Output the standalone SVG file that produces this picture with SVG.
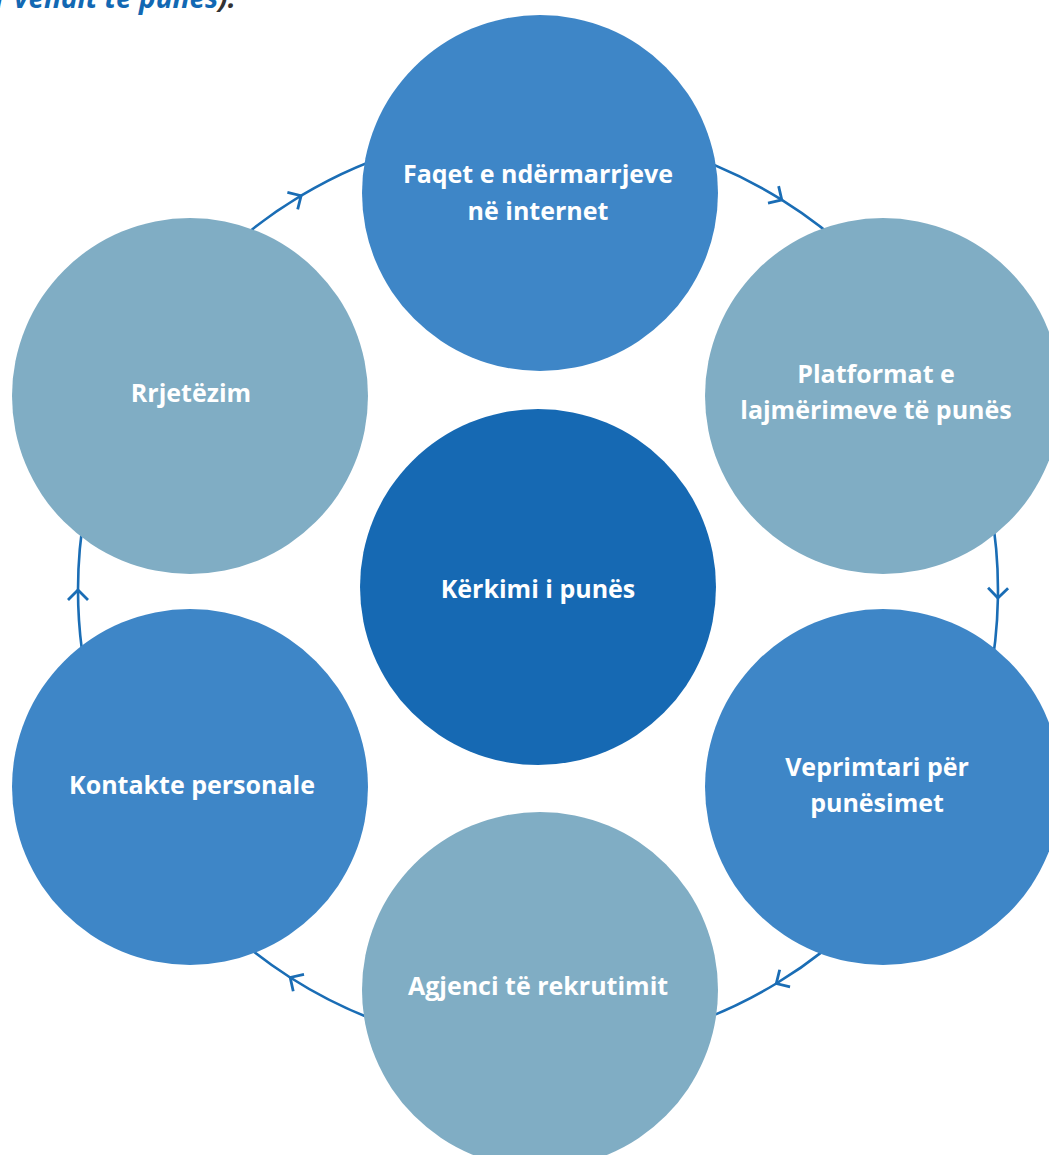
<svg xmlns="http://www.w3.org/2000/svg" width="1049" height="1155" viewBox="0 0 1049 1155">
<defs>
<style>
.lbl{font-family:"Open Sans","Liberation Sans",sans-serif;font-weight:700;font-size:25px;fill:#fff;text-anchor:middle}
.ring{fill:none;stroke:#1a6db5;stroke-width:2.6}
.mid{fill:#3e86c7}
.lt{fill:#80adc4}
.dk{fill:#1669b3}
</style>
<marker id="chev" viewBox="-16 -16 32 32" markerWidth="32" markerHeight="32" refX="0" refY="0" orient="auto" markerUnits="userSpaceOnUse">
<path d="M-10,-10 L0,0 L-10,10" fill="none" stroke="#1a6db5" stroke-width="2.8"/>
</marker>
</defs>
<rect width="1049" height="1155" fill="#fff"/>
<text x="-5" y="8" font-family="'Open Sans','Liberation Sans',sans-serif" font-weight="700" font-style="italic" font-size="28" fill="#1268b3">r vendit të punës<tspan fill="#333">).</tspan></text>
<g id="connectors">
<path class="ring" marker-mid="url(#chev)" d="M538,130 A460,460 0 0 1 781.8,199.9 A460,460 0 0 1 936.4,360"/>
<path class="ring" marker-mid="url(#chev)" d="M936.4,360 A460,460 0 0 1 997.9,598 A460,460 0 0 1 936.4,820"/>
<path class="ring" marker-mid="url(#chev)" d="M936.4,820 A460,460 0 0 1 776.3,983.5 A460,460 0 0 1 538,1050"/>
<path class="ring" marker-mid="url(#chev)" d="M538,1050 A460,460 0 0 1 290.2,977.5 A460,460 0 0 1 139.6,820"/>
<path class="ring" marker-mid="url(#chev)" d="M139.6,820 A460,460 0 0 1 78,590 A460,460 0 0 1 139.6,360"/>
<path class="ring" marker-mid="url(#chev)" d="M139.6,360 A460,460 0 0 1 301.1,195.7 A460,460 0 0 1 538,130"/>
</g>
<g id="node-top">
<circle class="mid" cx="540" cy="193" r="178"/>
<text class="lbl" x="538" y="183">Faqet e ndërmarrjeve</text>
<text class="lbl" x="538" y="220">në internet</text>
</g>
<g id="node-right-top">
<circle class="lt" cx="883" cy="396" r="178"/>
<text class="lbl" x="876" y="383">Platformat e</text>
<text class="lbl" x="876" y="419">lajmërimeve të punës</text>
</g>
<g id="node-right-bottom">
<circle class="mid" cx="883" cy="787" r="178"/>
<text class="lbl" x="877" y="776">Veprimtari për</text>
<text class="lbl" x="877" y="812">punësimet</text>
</g>
<g id="node-bottom">
<circle class="lt" cx="540" cy="990" r="178"/>
<text class="lbl" x="538" y="995">Agjenci të rekrutimit</text>
</g>
<g id="node-left-bottom">
<circle class="mid" cx="190" cy="787" r="178"/>
<text class="lbl" x="192" y="794">Kontakte personale</text>
</g>
<g id="node-left-top">
<circle class="lt" cx="190" cy="396" r="178"/>
<text class="lbl" x="191" y="402">Rrjetëzim</text>
</g>
<g id="node-center">
<circle class="dk" cx="538" cy="587" r="178"/>
<text class="lbl" x="538" y="598">Kërkimi i punës</text>
</g>
</svg>
